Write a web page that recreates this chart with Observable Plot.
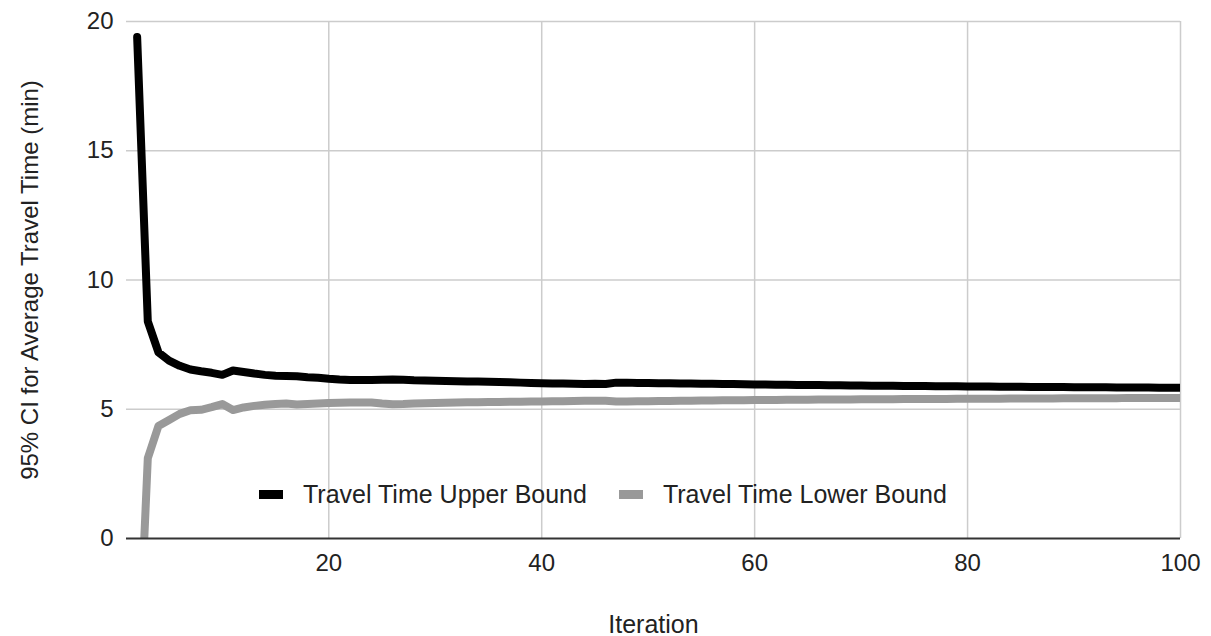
<!DOCTYPE html>
<html><head><meta charset="utf-8">
<script src="https://cdn.jsdelivr.net/npm/d3@7"></script>
<script src="https://cdn.jsdelivr.net/npm/@observablehq/plot@0.6"></script>
<style>
body{margin:0;background:#fff;}
#wrap{position:relative;width:1211px;height:636px;font-family:"Liberation Sans",Arial,sans-serif;}
#legend{position:absolute;left:259px;top:480px;display:flex;align-items:center;font-size:25px;color:#222;white-space:nowrap;}
.sw{width:24px;height:9px;margin-right:20px;}
.item{display:flex;align-items:center;margin-right:32px;}
</style></head><body><div id="wrap"><div id="chart"></div><div id="legend"></div></div>
<script>
const seriesNames = ["Travel Time Upper Bound", "Travel Time Lower Bound"];
const seriesColors = ["#000000", "#999999"];
const xTicks = [20, 40, 60, 80, 100];
const yTicks = [0, 5, 10, 15, 20];
const firstIteration = 2;
const upperBound = [
 19.4, 8.4, 7.2, 6.88, 6.68, 6.54, 6.47, 6.41, 6.33,
 6.50, 6.44, 6.38, 6.33, 6.30, 6.29, 6.28, 6.24, 6.22, 6.18,
 6.15, 6.13, 6.13, 6.13, 6.14, 6.15, 6.14, 6.12, 6.11, 6.10,
 6.09, 6.08, 6.07, 6.07, 6.06, 6.05, 6.04, 6.03, 6.02, 6.01,
 6.00, 6.00, 5.99, 5.98, 5.99, 5.98, 6.03, 6.03, 6.02, 6.02,
 6.01, 6.01, 6.00, 6.00, 5.99, 5.99, 5.98, 5.98, 5.97, 5.96,
 5.96, 5.95, 5.95, 5.94, 5.94, 5.94, 5.93, 5.93, 5.92, 5.92,
 5.91, 5.91, 5.91, 5.90, 5.90, 5.90, 5.89, 5.89, 5.89, 5.88,
 5.88, 5.88, 5.87, 5.87, 5.87, 5.86, 5.86, 5.86, 5.86, 5.85,
 5.85, 5.85, 5.85, 5.84, 5.84, 5.84, 5.84, 5.83, 5.83, 5.83
];
const lowerBound = [
 -6.3, 3.1, 4.35, 4.58, 4.82, 4.96, 4.98, 5.08, 5.20,
 4.97, 5.07, 5.13, 5.17, 5.20, 5.22, 5.18, 5.20, 5.22, 5.24,
 5.25, 5.26, 5.26, 5.26, 5.22, 5.19, 5.20, 5.22, 5.23, 5.24,
 5.25, 5.26, 5.27, 5.27, 5.28, 5.28, 5.29, 5.29, 5.30, 5.30,
 5.31, 5.31, 5.32, 5.33, 5.33, 5.33, 5.30, 5.30, 5.31, 5.31,
 5.32, 5.32, 5.33, 5.33, 5.34, 5.34, 5.35, 5.35, 5.35, 5.36,
 5.36, 5.36, 5.37, 5.37, 5.37, 5.38, 5.38, 5.38, 5.38, 5.39,
 5.39, 5.39, 5.39, 5.40, 5.40, 5.40, 5.40, 5.40, 5.41, 5.41,
 5.41, 5.41, 5.41, 5.42, 5.42, 5.42, 5.42, 5.42, 5.43, 5.43,
 5.43, 5.43, 5.43, 5.43, 5.44, 5.44, 5.44, 5.44, 5.44, 5.44
];
const upperData = upperBound.map((v, i) => ({iteration: firstIteration + i, value: v}));
const lowerData = lowerBound.map((v, i) => ({iteration: firstIteration + i, value: v}));

const chart = Plot.plot({
  width: 1211, height: 636,
  marginLeft: 126, marginRight: 31, marginTop: 21, marginBottom: 98,
  style: {fontFamily: '"Liberation Sans", Arial, sans-serif', fontSize: "24px", color: "#222", background: "#fff"},
  x: {domain: [1, 100]},
  y: {domain: [0, 20]},
  marks: [
    Plot.gridX(xTicks, {stroke: "#cccccc", strokeOpacity: 1, strokeWidth: 1.5}),
    Plot.gridY(yTicks.filter(d => d > 0), {stroke: "#cccccc", strokeOpacity: 1, strokeWidth: 1.5}),
    Plot.axisX(xTicks, {tickSize: 0, tickPadding: 15, label: null}),
    Plot.axisX({label: "Iteration", labelArrow: "none", labelAnchor: "center", labelOffset: 94, ticks: [], tickSize: 0, fontSize: 25}),
    Plot.axisY(yTicks, {tickSize: 0, tickPadding: 13, label: null}),
    Plot.axisY({label: "95% CI for Average Travel Time (min)", labelArrow: "none", labelAnchor: "center", labelOffset: 106, ticks: [], tickSize: 0, fontSize: 24, dx: -9}),
    Plot.line(lowerData, {x: "iteration", y: "value", stroke: seriesColors[1], strokeWidth: 8, clip: true}),
    Plot.line(upperData, {x: "iteration", y: "value", stroke: seriesColors[0], strokeWidth: 8, clip: true}),
    Plot.ruleY([0], {stroke: "#333", strokeWidth: 2})
  ]
});
document.getElementById("chart").appendChild(chart);

const legend = document.getElementById("legend");
seriesNames.forEach((name, i) => {
  const item = document.createElement("div");
  item.className = "item";
  const sw = document.createElement("div");
  sw.className = "sw";
  sw.style.background = seriesColors[i];
  const t = document.createElement("span");
  t.textContent = name;
  item.appendChild(sw); item.appendChild(t);
  legend.appendChild(item);
});
</script>
</body></html>
